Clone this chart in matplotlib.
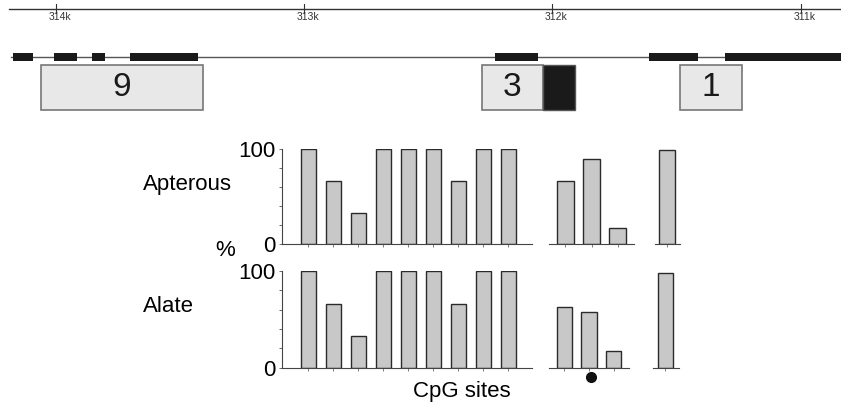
import matplotlib.pyplot as plt
import matplotlib.patches as mpatches

plt.rcParams['font.family'] = ['Liberation Sans', 'DejaVu Sans']

# genome ruler (bp)
ruler_ticks = [314000, 313000, 312000, 311000]
ruler_labels = ['314k', '313k', '312k', '311k']
view_range = (314225, 310838)
line_start = 314190

# exon blocks on the gene model (start, end in bp)
exons = [(314171, 314091), (314009, 313916), (313853, 313803),
         (313702, 313429), (312231, 312059), (311611, 311415),
         (311305, 310700)]

# amplified regions, labelled with number of CpG sites
regions = [(314059, 313407), (312285, 312039), (311486, 311238)]
region_labels = ['9', '3', '1']
dark_region = (312039, 311909)

# % methylation per CpG site, three amplicons
apterous_9 = [100, 66, 33, 100, 100, 100, 66, 100, 100]
apterous_3 = [66, 89, 17]
apterous_1 = [99]
alate_9 = [100, 66, 33, 100, 100, 100, 66, 100, 100]
alate_3 = [63, 58, 17]
alate_1 = [98]

W, H = 841, 405
fig = plt.figure(figsize=(W / 100, H / 100), dpi=100)


def px_axes(x0, x1, ytop, ybot):
    return fig.add_axes([x0 / W, (H - ybot) / H, (x1 - x0) / W, (ybot - ytop) / H])


# ---- gene track ----
trk = fig.add_axes([0, 1 - 120 / H, 1, 120 / H])
trk.set_xlim(*view_range)
trk.set_ylim(120, 0)
trk.axis('off')

trk.plot([line_start, view_range[1]], [8.5, 8.5], color='#333333', lw=1)
for t, lab in zip(ruler_ticks, ruler_labels):
    trk.plot([t, t], [4, 13], color='#333333', lw=0.8)
    trk.text(t - 15, 16.5, lab, fontsize=7.5, ha='center', va='center', color='#333333')

trk.plot([314182, view_range[1]], [57, 57], color='#555555', lw=1, zorder=1)
for s, e in exons:
    trk.add_patch(mpatches.Rectangle((e, 53.3), s - e, 7.4, color='#1a1a1a', lw=0, zorder=3))

for (s, e), lab in zip(regions, region_labels):
    trk.add_patch(mpatches.Rectangle((e, 65), s - e, 44.5, facecolor='#e8e8e8',
                                     edgecolor='#777777', lw=1.2))
    trk.text((s + e) / 2, 88, lab, fontsize=24, ha='center', va='center', color='#1a1a1a')
s, e = dark_region
trk.add_patch(mpatches.Rectangle((e, 65), s - e, 44.5, facecolor='#1a1a1a',
                                 edgecolor='#555555', lw=1))

# ---- methylation bar panels ----
bar_kw = dict(color='#c8c8c8', edgecolor='#2a2a2a', linewidth=1)


def style(ax, with_y):
    ax.set_ylim(0, 100)
    for sp in ['top', 'right']:
        ax.spines[sp].set_visible(False)
    ax.spines['bottom'].set_color('#444444')
    ax.tick_params(axis='x', length=2, width=0.6, color='#666666', labelbottom=False)
    if with_y:
        ax.spines['left'].set_color('#444444')
        ax.set_yticks([0, 100])
        ax.set_yticks([20, 40, 60, 80], minor=True)
        ax.tick_params(axis='y', which='both', length=2.5, width=0.6, color='#555555',
                       labelsize=16, pad=2)
    else:
        ax.spines['left'].set_visible(False)
        ax.set_yticks([])


rows = [
    ((149, 244), apterous_9, apterous_3, apterous_1, (549, 634), (655, 680), (0.54, 1.5)),
    ((271, 367.5), alate_9, alate_3, alate_1, (549, 629), (653, 679), (0.52, 1.56)),
]
mid_axes = []
for (ytop, ybot), v9, v3, v1, mid_x, right_x, right_lim in rows:
    a = px_axes(282, 532, ytop, ybot)
    pos = list(range(1, len(v9) + 1))
    a.bar(pos, v9, width=0.6, **bar_kw)
    a.set_xlim(-0.05, 9.95)
    a.set_xticks(pos)
    style(a, True)

    b = px_axes(mid_x[0], mid_x[1], ytop, ybot)
    pos = list(range(1, len(v3) + 1))
    b.bar(pos, v3, width=0.63, **bar_kw)
    b.set_xlim(0.37, 3.63)
    b.set_xticks(pos)
    style(b, False)
    mid_axes.append(b)

    c = px_axes(right_x[0], right_x[1], ytop, ybot)
    c.bar([1], v1, width=0.6, **bar_kw)
    c.set_xlim(*right_lim)
    c.set_xticks([1])
    style(c, False)

# marked CpG site
mid_axes[1].plot([2.1], [-10], 'o', color='#111111', markersize=7, clip_on=False)

fig.text(143 / W, 1 - 184 / H, 'Apterous', fontsize=16, ha='left', va='center')
fig.text(143 / W, 1 - 306 / H, 'Alate', fontsize=16, ha='left', va='center')
fig.text(225 / W, 1 - 251 / H, '%', fontsize=16, ha='center', va='center')
fig.text(462 / W, 1 - 392 / H, 'CpG sites', fontsize=16, ha='center', va='center')

fig.savefig('out.png', dpi=100)
